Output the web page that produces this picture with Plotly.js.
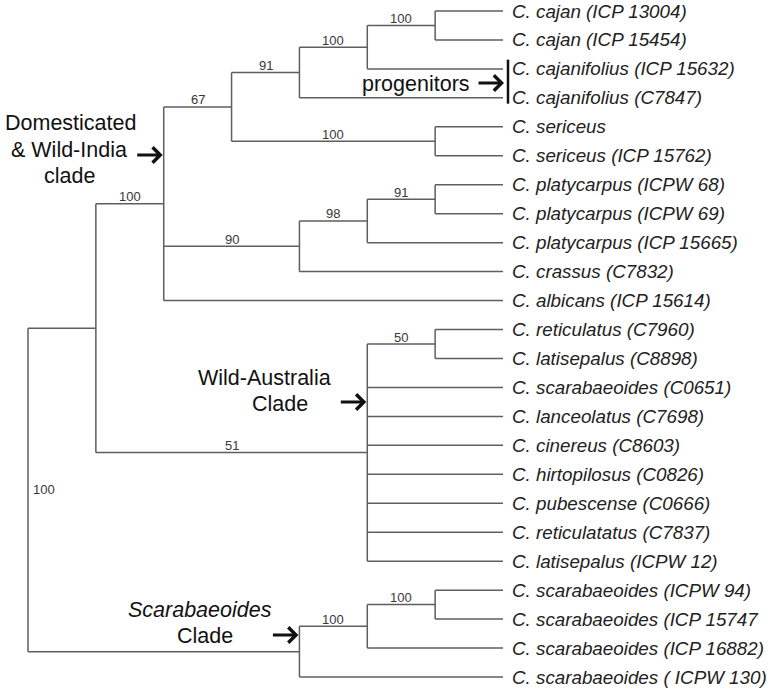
<!DOCTYPE html>
<html>
<head>
<meta charset="utf-8">
<script src="https://cdn.plot.ly/plotly-3.0.1.min.js"></script>
<style>html,body{margin:0;padding:0;background:#fff;}#chart{width:771px;height:692px;}</style>
</head>
<body>
<div id="chart"></div>
<script>
// ---- data: tree topology (leaf order top to bottom) ----
const leafLabels = [
  "C. cajan (ICP 13004)",
  "C. cajan (ICP 15454)",
  "C. cajanifolius (ICP 15632)",
  "C. cajanifolius (C7847)",
  "C. sericeus",
  "C. sericeus (ICP 15762)",
  "C. platycarpus (ICPW 68)",
  "C. platycarpus (ICPW 69)",
  "C. platycarpus (ICP 15665)",
  "C. crassus (C7832)",
  "C. albicans (ICP 15614)",
  "C. reticulatus (C7960)",
  "C. latisepalus (C8898)",
  "C. scarabaeoides (C0651)",
  "C. lanceolatus (C7698)",
  "C. cinereus (C8603)",
  "C. hirtopilosus (C0826)",
  "C. pubescense (C0666)",
  "C. reticulatatus (C7837)",
  "C. latisepalus (ICPW 12)",
  "C. scarabaeoides (ICPW 94)",
  "C. scarabaeoides (ICP 15747",
  "C. scarabaeoides (ICP 16882)",
  "C. scarabaeoides ( ICPW 130)"
];
// internal node each leaf hangs from
const leafParent = [6,6,5,4,7,7,10,10,9,8,2,12,12,11,11,11,11,11,11,11,15,15,14,13];
// internal nodes: parent, depth level (cladogram), bootstrap support
const nodeParent  = [null,0,1,2,3,4,5,3,2,8,9,1,11,0,13,14];
const nodeDepth   = [0,1,2,3,4,5,6,6,4,5,6,5,6,4,5,6];
const nodeSupport = ["100","","100","67","91","100","100","100","90","98","91","51","50","","100","100"];
const leafDepth = 7;

// ---- layout frame ----
const W = 771, H = 692;
const PX_ROOT = 28, PX_LEAF = 503, PY_FIRST = 11, PY_LAST = 677;
const dx = (PX_LEAF - PX_ROOT) / leafDepth;
const dy = (PY_LAST - PY_FIRST) / (leafLabels.length - 1);
const xRange = [-PX_ROOT / dx, (W - PX_ROOT) / dx];
const yRange = [(H - PY_FIRST) / dy, -PY_FIRST / dy];

// ---- compute node y positions from topology ----
const nNodes = nodeParent.length;
const childYs = Array.from({length: nNodes}, () => []);
const nodeY = new Array(nNodes).fill(null);
const nodeYmin = new Array(nNodes).fill(null);
const nodeYmax = new Array(nNodes).fill(null);
leafParent.forEach((p, i) => childYs[p].push(i));
function computeY(n) {
  if (nodeY[n] !== null) return nodeY[n];
  const ys = childYs[n].slice();
  for (let m = 0; m < nNodes; m++) if (nodeParent[m] === n) ys.push(computeY(m));
  nodeYmin[n] = Math.min(...ys);
  nodeYmax[n] = Math.max(...ys);
  nodeY[n] = (nodeYmin[n] + nodeYmax[n]) / 2;
  return nodeY[n];
}
for (let n = 0; n < nNodes; n++) computeY(n);

// ---- build line segments ----
const lx = [], ly = [];
function seg(x0, y0, x1, y1) { lx.push(x0, x1, null); ly.push(y0, y1, null); }
for (let n = 0; n < nNodes; n++) {
  seg(nodeDepth[n], nodeYmin[n], nodeDepth[n], nodeYmax[n]);
  if (nodeParent[n] !== null) seg(nodeDepth[nodeParent[n]], nodeY[n], nodeDepth[n], nodeY[n]);
}
leafParent.forEach((p, i) => seg(nodeDepth[p], i, leafDepth, i));

const traces = [{
  type: "scatter", mode: "lines", x: lx, y: ly,
  line: {color: "#5e5e5e", width: 1.5}, hoverinfo: "skip", showlegend: false
}];

const FONT = "Liberation Sans, Arial, Helvetica, sans-serif";
const annotations = [];

// leaf labels
leafLabels.forEach((t, i) => annotations.push({
  x: leafDepth, y: i, xref: "x", yref: "y", text: "<i>" + t + "</i>",
  showarrow: false, xanchor: "left", yanchor: "middle", xshift: 7,
  font: {family: FONT, size: 18.8, color: "#222", style: "italic"}
}));

// support labels
const SUP_FONT = {family: FONT, size: 13, color: "#383838"};
for (let n = 0; n < nNodes; n++) {
  if (!nodeSupport[n]) continue;
  if (nodeParent[n] === null) {
    annotations.push({x: nodeDepth[n], y: nodeY[n], xref: "x", yref: "y", text: nodeSupport[n],
      showarrow: false, xanchor: "left", yanchor: "middle", xshift: 3, font: SUP_FONT});
  } else {
    annotations.push({x: (nodeDepth[n] + nodeDepth[nodeParent[n]]) / 2, y: nodeY[n], xref: "x", yref: "y",
      text: nodeSupport[n], showarrow: false, xanchor: "center", yanchor: "middle", yshift: 7,
      font: SUP_FONT});
  }
}

// clade labels (pixel placement converted to paper coordinates)
function txt(t, px, py, anchor) {
  annotations.push({x: px / W, y: 1 - py / H, xref: "paper", yref: "paper", text: t,
    showarrow: false, xanchor: anchor || "center", yanchor: "middle",
    font: {family: FONT, size: 21.5, color: "#111"}});
}
txt("Domesticated", 70, 123);
txt("&amp; Wild-India", 69, 150);
txt("clade", 69, 176);
txt("progenitors", 472, 84, "right");
txt("Wild-Australia", 264.5, 378);
txt("Clade", 280, 404);
txt("<i>Scarabaeoides</i>", 199.5, 610);
txt("Clade", 204.5, 636);

function arrow(xData, py, len) {
  annotations.push({x: xData, y: 1 - py / H, xref: "x", yref: "paper", text: "",
    showarrow: true, ax: -len, ay: 0, arrowhead: 4, arrowsize: 1, arrowwidth: 3,
    arrowcolor: "#111", standoff: 1});
}
arrow(nodeDepth[2], 155, 28);
arrow(leafDepth + 2 / dx, 83, 28);
arrow(nodeDepth[11], 402, 28);
arrow(nodeDepth[13], 635, 28);

const shapes = [{
  type: "line", xref: "x", yref: "y", xsizemode: "pixel", xanchor: leafDepth, x0: 5, x1: 5,
  y0: 2 - 0.32, y1: 3 + 0.2, line: {color: "#111", width: 2.5}
}];

const layout = {
  width: W, height: H, margin: {l: 0, r: 0, t: 0, b: 0},
  paper_bgcolor: "#fff", plot_bgcolor: "#fff", showlegend: false,
  xaxis: {range: xRange, visible: false, fixedrange: true},
  yaxis: {range: yRange, visible: false, fixedrange: true},
  annotations: annotations, shapes: shapes
};
Plotly.newPlot("chart", traces, layout, {staticPlot: true, displayModeBar: false});
</script>
</body>
</html>
